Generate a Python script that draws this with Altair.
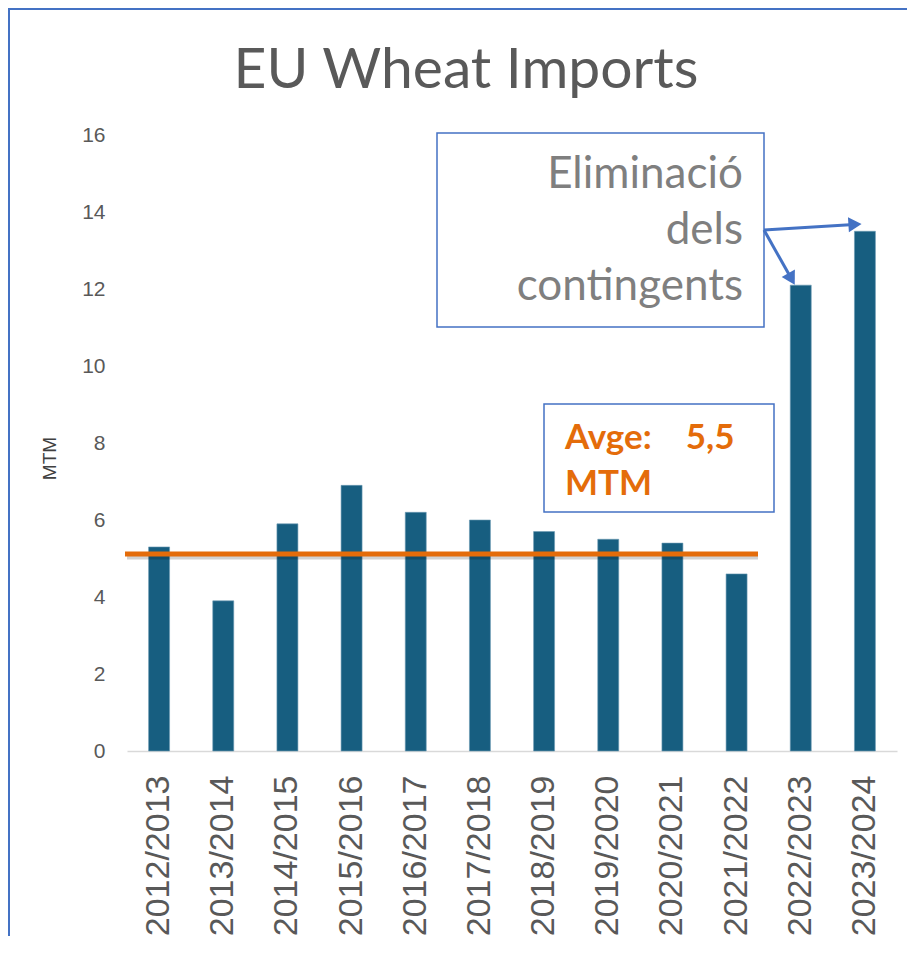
import altair as alt
import pandas as pd

# ---- data ----
seasons = ["2012/2013", "2013/2014", "2014/2015", "2015/2016", "2016/2017", "2017/2018",
           "2018/2019", "2019/2020", "2020/2021", "2021/2022", "2022/2023", "2023/2024"]
imports_mtm = [5.3, 3.9, 5.9, 6.9, 6.2, 6.0, 5.7, 5.5, 5.4, 4.6, 12.1, 13.5]
y_ticks = [0, 2, 4, 6, 8, 10, 12, 14, 16]
avg_level = 5.12
title_text = "EU Wheat Imports"
note_lines = ["Eliminació", "dels", "contingents"]
avg_lines = ["Avge:\u00a0\u00a0\u00a0\u00a05,5", "MTM"]

df = pd.DataFrame({"season": seasons, "mtm": imports_mtm})


def one():
    return alt.Data(values=[{"k": 0}])


W, H = 770, 616
BLUE = "#4472C4"
ORANGE = "#E46C0A"
GRAY = "#595959"

border = alt.Chart(one()).mark_rect(fillOpacity=0, stroke=BLUE, strokeWidth=2).encode(
    x=alt.value(-118), x2=alt.value(W + 60), y=alt.value(-126), y2=alt.value(H + 300)
)

bars = alt.Chart(df).mark_bar(color="#175E80", stroke="#6C9BB4", strokeWidth=0.6).encode(
    x=alt.X("season:N", sort=seasons,
            scale=alt.Scale(paddingInner=0.673, paddingOuter=0.3365),
            axis=alt.Axis(title=None, labelAngle=270, labelAlign="right", labelBaseline="middle",
                          labelFont="Liberation Sans", labelFontSize=34, labelColor=GRAY,
                          labelPadding=24, labelLimit=400, ticks=False, domainColor="#D9D9D9",
                          domainWidth=1.5, grid=False, labelOverlap=False)),
    y=alt.Y("mtm:Q", scale=alt.Scale(domain=[0, 16], nice=False),
            axis=alt.Axis(title="MTM", values=y_ticks, labelFont="Liberation Sans", labelFontSize=21,
                          labelColor=GRAY, labelPadding=22, ticks=False, domain=False, grid=False,
                          titleFont="Liberation Sans", titleFontSize=19, titleFontWeight="normal",
                          titleColor="#404040", titlePadding=22, titleY=323)),
)

avg_shadow = alt.Chart(one()).mark_rule(color="#000000", opacity=0.18, strokeWidth=5, yOffset=3, xOffset=2).encode(
    x=alt.value(-2), x2=alt.value(631), y=alt.datum(avg_level)
)
avg_rule = alt.Chart(one()).mark_rule(color=ORANGE, strokeWidth=5).encode(
    x=alt.value(-2), x2=alt.value(631), y=alt.datum(avg_level)
)

box1 = alt.Chart(one()).mark_rect(fill="white", stroke=BLUE, strokeWidth=1.5).encode(
    x=alt.value(310), x2=alt.value(637), y=alt.value(-2), y2=alt.value(192)
)
box2 = alt.Chart(one()).mark_rect(fill="white", stroke=BLUE, strokeWidth=1.5).encode(
    x=alt.value(417), x2=alt.value(647), y=alt.value(269), y2=alt.value(377)
)

note_text = alt.Chart(one()).mark_text(
    align="right", baseline="alphabetic", font="Lato", fontSize=44, color="#7F7F7F", lineHeight=56
).encode(x=alt.value(616), y=alt.value(53), text=alt.value(note_lines))

avg_text = alt.Chart(one()).mark_text(
    align="left", baseline="alphabetic", font="Lato", fontSize=35, fontWeight="bold", color=ORANGE, lineHeight=46
).encode(x=alt.value(438), y=alt.value(314), text=alt.value(avg_lines))

title = alt.Chart(one()).mark_text(
    align="center", baseline="alphabetic", font="Lato", fontSize=57, color=GRAY
).encode(x=alt.value(339), y=alt.value(-47), text=alt.value(title_text))

arrow1 = alt.Chart(one()).mark_rule(color=BLUE, strokeWidth=3).encode(
    x=alt.value(637), y=alt.value(95), x2=alt.value(727), y2=alt.value(89.5)
)
arrow2 = alt.Chart(one()).mark_rule(color=BLUE, strokeWidth=3).encode(
    x=alt.value(637), y=alt.value(95), x2=alt.value(664), y2=alt.value(143)
)
head1 = alt.Chart(one()).mark_point(shape="triangle-right", filled=True, size=230, color=BLUE,
                                    opacity=1, angle=356.5).encode(
    x=alt.value(728), y=alt.value(89.4)
)
head2 = alt.Chart(one()).mark_point(shape="triangle-right", filled=True, size=230, color=BLUE,
                                    opacity=1, angle=60.6).encode(
    x=alt.value(664.5), y=alt.value(144)
)

chart = alt.layer(
    border, bars, avg_shadow, avg_rule, box1, box2, note_text, avg_text, title,
    arrow1, arrow2, head1, head2
).properties(
    width=W, height=H,
    autosize=alt.AutoSizeParams(type="none"),
    padding={"left": 119, "top": 127, "right": 10, "bottom": 185},
    background="white",
).configure_view(strokeWidth=0)

chart.save("out.html", embed_options={"renderer": "svg", "actions": False})
